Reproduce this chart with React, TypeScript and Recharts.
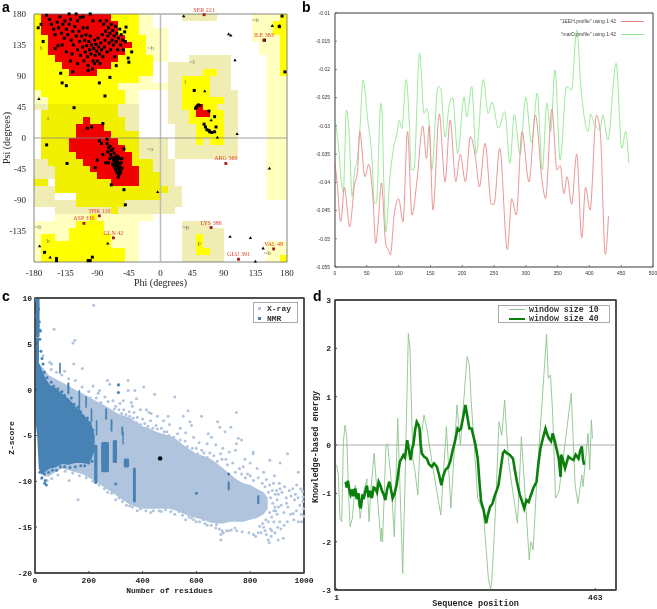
import {
  Area,
  ComposedChart,
  Line,
  LineChart,
  ReferenceArea,
  ReferenceLine,
  Scatter,
  ScatterChart,
  XAxis,
  YAxis,
} from "recharts";

type Pair = [number, number];
type Row = [number, number, number, number]; // psiHi, psiLo, phiLo, phiHi

const toPts = (rows: Pair[]) => rows.map(([x, y]) => ({ x, y }));

// ---- panel a: Ramachandran regions, as rows of 10 degree cells
const paleRows: Row[] = [
  [180, 160, -30, -10], [160, 110, -30, 10], [110, 80, -30, -10], [80, 70, -60, 10], [70, 50, -50, -30],
  [70, 50, -180, -160], [-110, -120, -150, -10], [-120, -130, -180, -30], [-130, -180, -180, -30],
  [180, 140, 130, 180], [140, 120, 140, 180], [120, -90, 150, 180], [-150, -180, 150, 180],
];
const khakiRows: Row[] = [
  [180, 170, 30, 80], [120, 110, 40, 100], [110, 70, 10, 100], [70, 20, 10, 110], [20, -30, 20, 110],
  [50, 40, -180, -160], [40, -30, -170, -160], [-30, -60, -180, -150], [-70, -100, -180, -150],
  [50, 30, -60, -30], [30, 0, -50, -30], [0, -30, -30, 10], [-30, -70, -20, 20], [-70, -100, -20, 30],
  [-90, -100, -150, 30], [-100, -110, -150, 20], [-120, -130, 30, 70], [-130, -180, 30, 90],
];
const yellowRows: Row[] = [
  [180, 150, -180, -30], [150, 120, -180, -20], [120, 90, -180, -10], [90, 80, -180, -30], [80, 70, -180, -60],
  [70, 60, -170, -50], [60, 50, -160, -50],
  [-110, -120, -100, -90], [-120, -130, -120, -80], [-130, -140, -130, -80], [-140, -150, -170, -150],
  [-140, -150, -130, -70], [-150, -160, -170, -70], [-160, -180, -170, -50],
  [180, 170, 170, 180], [170, 150, 160, 180], [150, 90, 170, 180], [-170, -180, 170, 180],
  [100, 90, 60, 80], [90, 60, 30, 70], [60, 50, 30, 90], [50, 40, 30, 80], [40, 20, 40, 90], [20, 0, 50, 90],
  [0, -10, 50, 60], [0, -10, 70, 90], [-140, -160, 50, 60], [-160, -170, 50, 70],
];
const darkYellowRows: Row[] = [
  [50, 40, -160, -60], [40, 30, -170, -60], [30, 10, -170, -50], [10, -30, -170, -30], [-30, -40, -160, -10],
  [-40, -50, -150, -10], [-50, -70, -150, 0], [-70, -80, -150, 10], [-80, -90, -120, 0], [-90, -100, -120, -50],
  [-100, -110, -70, -60], [-60, -70, -180, -160],
];
const redRows: Row[] = [
  [180, 170, -170, -70], [170, 150, -170, -60], [150, 140, -160, -50], [140, 130, -160, -40], [130, 120, -160, -50],
  [120, 110, -150, -60], [110, 100, -140, -70], [100, 90, -130, -90],
  [30, 20, -110, -100], [20, 10, -120, -80], [10, 0, -120, -70], [0, -10, -130, -60], [-10, -20, -130, -50],
  [-20, -30, -120, -40], [-30, -40, -110, -40], [-40, -50, -100, -30], [-50, -60, -90, -30], [-60, -70, -70, -30],
  [50, 40, 50, 60], [40, 30, 50, 70],
];

const regionLabels: [string, number, number, string][] = [
  ["B", -158, 170, "#8a1010"], ["b", -170, 130, "#8a8a10"], ["a", -160, 28, "#8a8a10"], ["A", -110, 10, "#8a1010"],
  ["~b", -14, 130, "#777"], ["~a", -15, -16, "#777"], ["~l", 45, 110, "#777"], ["l", 35, 80, "#777"],
  ["~p", 36, -130, "#666"], ["p", 55, -153, "#666"], ["~b", -174, -130, "#666"], ["b", -160, -150, "#666"],
  ["~b", 135, 170, "#666"], ["b", 170, 160, "#777"], ["~b", 152, -167, "#666"],
];

const outliers: { name: string; x: number; y: number }[] = [
  { name: "SER 221", x: 62, y: 179 },
  { name: "ILE 383", x: 147, y: 142 },
  { name: "ARG 360", x: 93, y: -37 },
  { name: "THR 110", x: -87, y: -113 },
  { name: "ASP 336", x: -109, y: -124 },
  { name: "LYS 386", x: 72, y: -130 },
  { name: "GLN 42", x: -67, y: -145 },
  { name: "VAL 48", x: 161, y: -161 },
  { name: "GLU 391", x: 111, y: -176 },
];

const glycines: Pair[] = [
  [33, 177], [97, 151], [100, 149], [106, 113], [159, 163], [169, 163], [-173, 57], [63, 68], [72, 26], [81, 1],
  [109, 6], [155, -44], [-4, -78], [-172, -157], [-157, -173], [-75, -153], [99, -143], [128, -145], [146, -160],
  [135, -179],
];

const residues: Pair[] = [
  // sheet region, edges
  [-174, 160], [-170, 165], [-167, 140], [-162, 178], [-130, 180], [-120, 180], [-100, 180], [-49, 161], [-51, 154],
  [-41, 125], [-46, 116], [-45, 110], [-63, 105], [-142, 94], [-125, 96], [-103, 98], [-140, 80], [-134, 76], [-87, 80],
  [-72, 88], [-79, 61], [-123, 44],
  // sheet region, inner
  [-158, 172], [-155, 165], [-152, 158], [-150, 150], [-147, 168], [-145, 160], [-143, 176], [-141, 152], [-139, 165],
  [-137, 145], [-136, 170], [-134, 158], [-132, 150], [-130, 165], [-128, 172], [-127, 142], [-125, 155], [-124, 135],
  [-122, 162], [-120, 148], [-118, 170], [-118, 128], [-116, 155], [-115, 140], [-114, 120], [-112, 148], [-111, 132],
  [-110, 160], [-109, 112], [-108, 142], [-107, 125], [-106, 150], [-105, 134], [-104, 118], [-103, 105], [-102, 140],
  [-101, 128], [-100, 148], [-99, 122], [-98, 135], [-97, 100], [-96, 112], [-95, 130], [-94, 142], [-93, 120],
  [-92, 136], [-91, 126], [-90, 112], [-89, 145], [-88, 132], [-87, 122], [-86, 108], [-85, 138], [-84, 128],
  [-83, 150], [-82, 118], [-81, 165], [-80, 132], [-79, 142], [-78, 155], [-77, 170], [-76, 125], [-75, 148],
  [-74, 160], [-73, 138], [-72, 152], [-71, 128], [-70, 165], [-69, 142], [-68, 156], [-67, 135], [-66, 148],
  [-65, 118], [-64, 162], [-63, 140], [-62, 152], [-61, 128], [-60, 145], [-58, 158], [-57, 135], [-56, 150],
  [-54, 142], [-53, 128], [-50, 140], [-146, 134], [-128, 112], [-134, 125], [-150, 130], [-118, 108], [-94, 108],
  [-114, 175], [-96, 170], [-110, 176], [-86, 170], [-140, 135], [-126, 122], [-104, 160],
  // helix region
  [-104, 14], [-98, 16], [-82, 21], [-76, -2], [-87, -4], [-84, -8], [-90, -32], [-93, -43], [-78, -36], [-162, -10],
  [-133, -37], [-70, -68], [-52, -75], [-50, -97], [-76, -8], [-74, -14], [-72, -12], [-70, -18], [-75, -20], [-68, -16],
  [-71, -24], [-69, -28], [-66, -22], [-67, -32], [-64, -28], [-72, -30], [-65, -36], [-62, -32], [-68, -38], [-63, -40],
  [-60, -36], [-66, -42], [-61, -44], [-58, -40], [-64, -46], [-59, -48], [-62, -50], [-57, -46], [-60, -54], [-58, -52],
  [-55, -44], [-62, -26], [-60, -28], [-58, -30], [-56, -36], [-65, -30], [-63, -34], [-61, -38], [-59, -42], [-57, -50],
  [-74, -36], [-82, -24], [-60, -57], [-55, -30], [-52, -16],
  // left handed region
  [48, 69], [51, 45], [54, 48], [56, 47], [50, 43], [69, 39], [77, 31], [62, 20], [64, 16], [66, 12], [79, 16], [77, 9],
  [70, 9], [73, 8], [69, 11],
  // others
  [-165, -166], [-148, -175], [-148, -178], [-103, -178], [-100, -178], [-97, -173], [173, 177], [169, 162], [148, 142],
  [177, 96],
];

const phiTicks = [-180, -135, -90, -45, 0, 45, 90, 135, 180];
const psiTicks = [180, 135, 90, 45, 0, -45, -90, -135];

// ---- panel b
const profileRed: Pair[] = [
  [0, -0.0366], [3, -0.0396], [9, -0.047], [15, -0.0409], [19, -0.0445], [23, -0.0479], [31, -0.0402], [35, -0.0385],
  [39, -0.031], [47, -0.039], [53, -0.0368], [60, -0.0434], [64, -0.0508], [68, -0.047], [73, -0.0401], [80, -0.0511],
  [84, -0.052], [87, -0.0529], [93, -0.0458], [100, -0.0429], [107, -0.047], [114, -0.031], [121, -0.0458],
  [129, -0.0396], [138, -0.03], [144, -0.0358], [148, -0.03], [154, -0.0449], [164, -0.0279], [173, -0.0399],
  [181, -0.029], [190, -0.0399], [197, -0.035], [205, -0.0399], [213, -0.0319], [221, -0.0358], [227, -0.0408],
  [236, -0.0331], [246, -0.0439], [250, -0.0439], [259, -0.034], [271, -0.0519], [278, -0.0429], [285, -0.0458],
  [294, -0.031], [305, -0.0399], [315, -0.0281], [326, -0.0401], [331, -0.0429], [341, -0.027], [349, -0.0378],
  [354, -0.037], [360, -0.042], [365, -0.039], [372, -0.0439], [380, -0.035], [388, -0.0498], [394, -0.0409],
  [401, -0.0449], [411, -0.0281], [417, -0.031], [425, -0.0528], [430, -0.046],
];
const profileGreen: Pair[] = [
  [0, -0.029], [5, -0.033], [10, -0.04], [13, -0.0417], [18, -0.0272], [22, -0.031], [27, -0.0425], [31, -0.0378],
  [35, -0.036], [39, -0.031], [44, -0.0219], [52, -0.0295], [58, -0.0355], [62, -0.0437], [65, -0.0437], [72, -0.026],
  [74, -0.028], [77, -0.0408], [80, -0.0488], [86, -0.0396], [92, -0.034], [98, -0.031], [101, -0.029], [105, -0.0305],
  [112, -0.0218], [117, -0.03], [120, -0.0378], [124, -0.0378], [133, -0.0171], [140, -0.0278], [144, -0.0269],
  [148, -0.0295], [152, -0.0378], [162, -0.023], [166, -0.0233], [173, -0.032], [180, -0.026], [185, -0.025],
  [193, -0.0349], [203, -0.0249], [207, -0.0284], [215, -0.023], [222, -0.035], [233, -0.0218], [241, -0.0278],
  [247, -0.0258], [257, -0.0304], [267, -0.0275], [275, -0.0366], [282, -0.028], [291, -0.035], [300, -0.0249],
  [309, -0.033], [318, -0.0242], [326, -0.0378], [333, -0.026], [339, -0.031], [346, -0.0201], [354, -0.036],
  [364, -0.023], [372, -0.0237], [380, -0.013], [387, -0.0236], [398, -0.031], [402, -0.0279], [408, -0.0298],
  [417, -0.0307], [421, -0.028], [429, -0.0325], [442, -0.0189], [451, -0.034], [457, -0.031], [462, -0.0366],
];
const profileXTicks = [0, 50, 100, 150, 200, 250, 300, 350, 400, 450, 500];
const profileYTicks = [-0.01, -0.015, -0.02, -0.025, -0.03, -0.035, -0.04, -0.045, -0.05, -0.055];

// ---- panel c: dense clouds as [residues, low, high], loose points listed
const xrayBand: [number, number, number][] = [
  [10, -5, 3], [30, -9.4, 2.4], [50, -9.5, 1.6], [75, -9, 1.2], [100, -8.6, 0.8], [125, -8.8, 0.4], [150, -9, 0],
  [175, -9.2, -0.4], [200, -9.6, -0.8], [225, -10, -1.2], [250, -10.5, -1.6], [275, -11, -2], [300, -11.5, -2.5],
  [325, -12, -2.8], [350, -12.5, -3], [375, -12.8, -3.5], [400, -13, -4], [425, -13, -4.2], [450, -13, -4.6],
  [475, -13, -4.8], [500, -13, -5], [525, -13.2, -5.4], [550, -13.5, -6], [575, -13.8, -6.5], [600, -14, -7],
  [625, -14.2, -7.2], [650, -14.5, -7.5], [675, -14.6, -8], [700, -14.6, -8.6], [725, -14.4, -9.2], [750, -14.4, -9.8],
  [775, -14.4, -10.2], [800, -14.2, -10.4], [825, -14, -10.8], [850, -13.6, -11.2], [865, -13, -11.8],
];
const nmrBand: [number, number, number][] = [
  [0, -3, 3], [8, -5, 3.4], [14, -8.6, 3], [25, -9.3, 2.2], [40, -8.9, 1.2], [55, -8.6, 0.5], [75, -8.5, 0.2],
  [100, -8.1, -0.4], [125, -8.2, -1], [150, -8, -1.8], [175, -8, -2.6], [195, -8.1, -3.2], [210, -7.6, -3.8],
  [222, -6.6, -5],
];
const nmrStripes: Row[] = [
  [10, 5.7, 1, 17], [8, 6, 6, 14], [5.7, 3, 1, 15], [3, 1.7, 90, 96], [0.8, -0.5, 120, 128], [0, -3, 162, 168],
  [-0.7, -2, 187, 193], [-2, -3.5, 207, 213], [-2, -3.3, 261, 268], [-3.2, -4.6, 281, 288], [-3.3, -5, 226, 232],
  [-4, -5, 321, 328], [-6, -10.3, 220, 232], [-5.7, -9, 246, 275], [-5.5, -8, 289, 305], [-7.5, -8.5, 330, 350],
  [-8.5, -12.3, 364, 375], [-10, -11, 716, 724], [-11.5, -12.5, 826, 834], [-4.6, -6, 325, 330],
];
const xrayPoints: Pair[] = [
  [218, 9.2], [71, 6.6], [148, 5.4], [141, 5.1], [55, 3], [30, 3.7], [144, 2.8], [176, 2.3], [110, 2], [61, 2.8],
  [216, 0.4], [269, 1], [311, 0.6], [346, 1], [240, -0.1], [278, 0.6], [346, -0.1], [371, -0.1], [404, 0.3], [445, -0.5],
  [520, -0.8], [377, -1], [328, -1.2], [358, -1.4], [368, -2.5], [414, -2.2], [423, -2.5], [749, -2.5], [569, -2.3],
  [619, -2.9], [495, -2.9], [551, -2.9], [576, -3.5], [582, -3.9], [679, -3.5], [687, -4.1], [706, -4.6], [728, -4.1],
  [644, -4.8], [656, -5.2], [749, -5.9], [756, -5.3], [811, -6.8], [811, -7], [768, -5.5], [939, -7], [873, -7.7],
  [911, -8], [979, -9], [774, -8.4], [886, -10.2], [911, -10.8], [973, -10.4], [995, -11.1], [997, -11.7], [935, -12.4],
  [960, -13.5], [979, -14.4], [991, -14.4], [923, -16.2], [867, -16.4], [871, -16.7], [904, -16.4], [691, -16.4],
  [691, -15.8], [675, -14.7], [743, -15.1], [625, -14.2], [582, -14], [160, -12], [127, -9.9], [24, -9.7],
  [905, -11.4], [915, -12.6], [925, -13.4], [940, -12.8], [952, -11.6], [965, -12], [985, -12.6], [1000, -13.8],
  [900, -13.6], [910, -14.4], [880, -15.4], [860, -15.8], [840, -15.6], [820, -16], [700, -15.6], [685, -15.2],
  [720, -15.4], [640, -14.8], [600, -14.4], [560, -14.2], [520, -13.6], [470, -13.3], [430, -13.4], [380, -13.2],
  [340, -12.6], [300, -12], [270, -11.2], [450, -3.9], [470, -4.2], [490, -4.6], [530, -4.8], [510, -5.4], [600, -6.4],
  [620, -6.6], [650, -6.9], [690, -7], [710, -7.6], [760, -8.6], [790, -9.2], [830, -9.6], [860, -9.8], [430, -3.4],
  [400, -3.2], [380, -3], [350, -2.4], [330, -2.2], [300, -1.8], [290, -1.2], [260, -0.8], [235, -0.4], [200, -0.2],
  [175, 0.3], [150, 1], [125, 1.2], [100, 1.6], [80, 1.9], [60, 2.2],
  // upper rim of the cloud
  [205, -0.9], [215, -1.6], [228, -0.9], [245, -1.4], [258, -1.9], [272, -1.3], [285, -2.4], [295, -2.1], [312, -2.2],
  [322, -2.6], [338, -2.7], [352, -2.9], [365, -3.1], [378, -3.6], [392, -3.8], [408, -3.7], [420, -4], [438, -4.2],
  [455, -4.3], [462, -5], [480, -4.6], [498, -5], [515, -5.2], [540, -5.5], [558, -5.6], [566, -6.2], [585, -6.4],
  [605, -7], [628, -6.9], [640, -7.4], [665, -7.2], [678, -7.8], [695, -7.6], [715, -8.2], [735, -8], [745, -9],
  [768, -9.2], [782, -9.6], [800, -9.4], [812, -9.9], [845, -10.2], [855, -10.6], [872, -10.4], [882, -11], [893, -11.4],
  [540, -4.2], [590, -5.2], [610, -5.8], [672, -6], [698, -6.4], [722, -6.8], [745, -6.6], [780, -7.6], [800, -8],
  [826, -8.6], [850, -9], [890, -9.4], [640, -5.9], [560, -4.7], [478, -3.4], [500, -3.8], [455, -2.9], [432, -2.6],
  [392, -2.2], [362, -1.8], [316, -1.5],
  // lower rim of the cloud
  [900, -12], [905, -12.8], [895, -13.2], [888, -14.4], [875, -15.2], [855, -15.4], [830, -15.6], [812, -15.8],
  [795, -15.6], [770, -15.5], [750, -15.4], [730, -15.3], [712, -15.4], [695, -15.4], [672, -15.1], [655, -14.8],
  [632, -14.6], [612, -14.4], [590, -14.2], [572, -13.9], [548, -13.7], [535, -13.3], [505, -13.3], [485, -13.1],
  [462, -13.2], [440, -13.2], [412, -13.2], [392, -13], [362, -12.8], [352, -12.7], [325, -12.2], [312, -11.8],
  [285, -11.3], [258, -10.8], [238, -10.4], [215, -10], [190, -9.6], [165, -9.4], [140, -9.1], [112, -8.9], [85, -9.3],
  [62, -9.7], [45, -9.9],
  // loose tail beyond 850 residues
  [868, -11.2], [876, -11.8], [884, -12.4], [892, -12.8], [872, -13.4], [880, -13.9], [868, -14.4], [858, -14.2],
  [846, -14.6], [835, -14.9], [898, -11], [908, -10.2], [918, -11.2], [928, -10.6], [934, -11.8], [945, -11], [958, -10.8],
  [968, -11.4], [978, -11.8], [988, -10.8], [996, -12.2], [998, -13], [990, -13.6], [972, -13.2], [962, -14.2],
  [950, -13.6], [938, -14.4], [926, -14.8], [914, -15.2], [902, -15], [892, -15.6], [878, -16], [888, -13.2], [850, -15],
];
const nmrPoints: Pair[] = [
  [300, -10.3], [600, -11.3], [310, 0.5], [310, -0.3], [5, 8], [12, 7], [18, 6.5], [720, -9.2],
  [5, 9.8], [10, 9.2], [8, 9.6], [14, 8.8], [16, 7.4], [20, 6.4], [18, 5.5], [22, 4.2], [26, 3.4], [30, 2.8], [35, 1.9],
  [45, 1.3], [60, 0.8], [70, 0.4], [85, 0.1], [100, -0.2], [110, -0.6], [135, -0.9], [145, -1.6], [160, -1.9], [170, -2.4],
  [180, -2.9], [195, -3.1], [205, -3.6], [215, -4.4], [18, -9], [26, -9.6], [35, -9.2], [42, -10.4], [36, -10.2], [38, -9.9],
  [50, -9], [65, -8.8], [80, -8.8], [95, -8.4], [110, -8.4], [130, -8.5], [150, -8.4], [170, -8.3], [185, -8.3], [200, -8],
  [212, -7.8],
];
const targetPoint: Pair[] = [[465, -7.5]];
const zXTicks = [0, 200, 400, 600, 800, 1000];
const zYTicks = [10, 5, 0, -5, -10, -15, -20];

// ---- panel d
const window10: Pair[] = [
  [1, -0.41], [4, -0.62], [7, -1.52], [10, -1.59], [13, 0.07], [16, 0.41], [19, 0.2], [22, -0.97], [25, -1.69], [29, -1.52],
  [34, -0.83], [40, -1.1], [43, -1.52], [49, -0.97], [55, -0.7], [59, -1.59], [62, -0.95], [68, -0.17], [73, -0.97], [80, -2],
  [81, -1.72], [83, -2], [89, 0], [92, 0.03], [98, -0.69], [104, -1.9], [110, 0.55], [114, -0.83], [119, -2.66], [123, -0.83],
  [129, 2.31], [132, 2], [137, -0.28], [141, -0.55], [146, -1.03], [150, 0], [157, 0.62], [162, 0.34], [171, -0.34],
  [180, -0.97], [187, -1.45], [197, 0.38], [205, -1.31], [216, 0.83], [222, 0], [234, 1.83], [238, 1.66], [241, 0.97],
  [249, -0.41], [253, -1.1], [263, -1.38], [272, -2.76], [276, -3], [278, -2.83], [284, -1.52], [291, 0.48], [296, 0.2],
  [301, 0.93], [308, -0.34], [314, -0.83], [324, -1.62], [331, 0.17], [338, -1.1], [345, -2.38], [348, -2], [352, -2.17],
  [359, -0.62], [370, 1.24], [376, 2.29], [379, 1.38], [383, 1.45], [387, 0.62], [392, -1.1], [398, -0.97], [415, 0.59],
  [420, 1.07], [427, -0.83], [432, -1.21], [439, -0.62], [441, -0.86], [450, 0.24], [453, -0.52], [456, 0.52], [458, 0.14],
];
const window40: Pair[] = [
  [17, -0.76], [19, -0.88], [21, -0.74], [24, -0.95], [26, -1.03], [29, -0.92], [31, -1.06], [34, -0.9], [37, -1.12], [40, -1],
  [42, -1.25], [44, -1.31], [47, -1.02], [49, -1.12], [52, -0.97], [55, -0.84], [58, -1.08], [61, -0.95], [64, -1.1], [67, -0.88],
  [70, -0.9], [73, -0.98], [76, -0.76], [79, -0.83], [82, -0.95], [85, -1.02], [88, -1.14], [91, -0.92], [95, -0.76], [98, -0.92],
  [101, -1.1], [104, -1.02], [108, -0.83], [111, -0.58], [114, -0.34], [117, -0.28], [120, -0.21], [123, -0.26], [127, 0.1],
  [130, -0.1], [133, -0.31], [136, -0.06], [138, 0], [141, 0.3], [144, 0.48], [147, 0.42], [149, 0.34], [151, 0.02], [153, -0.17],
  [157, -0.24], [162, -0.28], [166, -0.4], [171, -0.45], [175, -0.38], [180, -0.45], [184, -0.62], [188, -0.83], [191, -0.66],
  [195, -0.52], [200, -0.46], [204, -0.34], [208, -0.12], [212, 0.06], [217, 0.34], [220, 0.3], [223, 0.34], [227, 0.58],
  [231, 0.83], [234, 0.62], [238, 0.34], [242, 0.34], [245, 0.2], [249, 0], [253, -0.28], [256, -0.76], [259, -1.17], [263, -1.32],
  [268, -1.62], [271, -1.45], [275, -1.28], [279, -1.22], [284, -1.03], [287, -0.94], [290, -0.83], [294, -0.5], [298, -0.17],
  [301, -0.12], [305, -0.17], [310, -0.2], [316, -0.28], [319, -0.5], [323, -0.76], [328, -1.02], [332, -1.16], [336, -1.31],
  [340, -1.14], [344, -1.18], [347, -1.07], [352, -0.9], [358, -0.76], [361, -0.42], [365, -0.07], [369, 0.12], [374, 0.34],
  [377, 0.22], [380, 0.14], [384, 0.08], [387, 0.24], [391, 0.06], [395, -0.14], [398, -0.3], [401, -0.66], [402, -0.2],
  [405, -0.3], [409, -0.48], [412, -0.36], [415, -0.24], [419, -0.28], [424, -0.31], [428, -0.2], [433, -0.28], [436, -0.12],
  [439, -0.03], [441, -0.3], [443, -0.41],
];
const seqXTicks = [1, 463];
const seqYTicks = [3, 2, 1, 0, -1, -2, -3];

const serif = "'Liberation Serif', serif";
const mono = "'Liberation Mono', monospace";
const sans = "'Liberation Sans', sans-serif";

const Cell = (fill: string) => (props: any) => (
  <rect x={props.x} y={props.y} width={props.width} height={props.height} fill={fill} shapeRendering="crispEdges" />
);

const regionAreas = (rows: Row[], fill: string, prefix: string) =>
  rows.map((r, i) => (
    <ReferenceArea key={prefix + i} x1={r[2]} x2={r[3]} y1={r[1]} y2={r[0]} ifOverflow="visible" shape={Cell(fill)} />
  ));

const Square = (size: number, fill: string) => (props: any) => (
  <rect x={props.cx - size / 2} y={props.cy - size / 2} width={size} height={size} fill={fill} />
);
const Triangle = (props: any) => (
  <path d={`M${props.cx} ${props.cy - 1.6}L${props.cx + 1.7} ${props.cy + 1.2}L${props.cx - 1.7} ${props.cy + 1.2}Z`} fill="#000" />
);
const Dot = (r: number, fill: string) => (props: any) => <circle cx={props.cx} cy={props.cy} r={r} fill={fill} />;
const Stripe = (props: any) => (
  <rect x={props.x} y={props.y} width={props.width} height={props.height} rx={1.5} fill="#4682b4" />
);
const Outlier = (props: any) => (
  <g>
    <rect x={props.cx - 1.4} y={props.cy - 1.4} width={2.8} height={2.8} fill="#a01818" />
    <text x={props.cx} y={props.cy - 3} textAnchor="middle" fontSize={6} fontFamily={serif} fill="#e0402c">
      {props.payload.name}
    </text>
  </g>
);
const RegionText = (props: any) => (
  <text x={props.cx} y={props.cy} textAnchor="middle" dominantBaseline="middle" fontSize={6.5} fontFamily={serif} fill={props.payload.color}>
    {props.payload.text}
  </text>
);
// rotated axis title, centred on a page position
const SideTitle = ({ x, y, text, font }: { x: number; y: number; text: string; font: string }) => (
  <div
    style={{
      position: "absolute",
      left: x,
      top: y,
      transform: "translate(-50%, -50%) rotate(-90deg)",
      font,
      color: "#222",
      whiteSpace: "pre",
    }}
  >
    {text}
  </div>
);

const Panel = ({ left, top, children }: { left: number; top: number; children: any }) => (
  <div style={{ position: "absolute", left, top }}>{children}</div>
);
const Letter = ({ x, y, text }: { x: number; y: number; text: string }) => (
  <div style={{ position: "absolute", left: x, top: y, font: "bold 14px 'Liberation Sans', sans-serif", lineHeight: "14px", color: "#000" }}>
    {text}
  </div>
);

export default function App() {
  const tickA = { fontSize: 9, fontFamily: serif, fill: "#222" };
  const tickB = { fontSize: 5, fontFamily: sans, fill: "#333" };
  const tickC = { fontSize: 8, fontFamily: mono, fontWeight: 700, fill: "#222" };
  const tickLegend = { fontFamily: mono, fontSize: 8.3, fontWeight: 700, color: "#333", whiteSpace: "pre" as const, lineHeight: "8px" };
  const titleSerif = { fontSize: 10, fontFamily: serif, fill: "#222" };
  const titleMono = { fontSize: 8.5, fontFamily: mono, fontWeight: 700, fill: "#222" };
  const thinLine = { stroke: "#555", strokeWidth: 0.7 };
  const heavyLine = { stroke: "#444", strokeWidth: 1.4 };

  return (
    <div style={{ position: "absolute", left: 0, top: 0, width: 657, height: 609, background: "#fff", overflow: "hidden", filter: "blur(0.45px)" }}>
      <Panel left={0} top={0}>
        <ScatterChart width={300} height={290} margin={{ top: 14, right: 13, bottom: 0, left: 0 }}>
          <XAxis
            type="number"
            dataKey="x"
            domain={[-180, 180]}
            ticks={phiTicks}
            interval={0}
            height={28}
            tick={tickA}
            tickLine={false}
            axisLine={false}
            tickMargin={2}
            label={{ value: "Phi (degrees)", position: "insideBottom", offset: 4, ...titleSerif }}
          />
          <YAxis
            type="number"
            dataKey="y"
            domain={[-180, 180]}
            ticks={psiTicks}
            interval={0}
            width={34}
            tick={tickA}
            tickLine={false}
            axisLine={false}
            tickMargin={2}
          />
          {regionAreas(paleRows, "#ffffc0", "pale")}
          {regionAreas(khakiRows, "#efedb4", "khaki")}
          {regionAreas(yellowRows, "#ffff00", "yellow")}
          {regionAreas(darkYellowRows, "#f0f000", "dark")}
          {regionAreas(redRows, "#f00000", "red")}
          <ReferenceLine x={0} stroke="#bbb" strokeWidth={1.5} />
          <ReferenceLine y={0} stroke="#888" strokeWidth={0.8} />
          <ReferenceArea x1={-180} x2={180} y1={-180} y2={180} fill="none" stroke="#666" strokeWidth={0.8} />
          <Scatter
            data={regionLabels.map(([text, x, y, color]) => ({ text, x, y, color }))}
            shape={RegionText}
            isAnimationActive={false}
          />
          <Scatter data={toPts(residues)} shape={Square(3, "#000")} isAnimationActive={false} />
          <Scatter data={toPts(glycines)} shape={Triangle} isAnimationActive={false} />
          <Scatter data={outliers} shape={Outlier} isAnimationActive={false} />
        </ScatterChart>
      </Panel>
      <SideTitle x={6} y={138} text="Psi (degrees)" font={`10px ${serif}`} />

      <Panel left={300} top={0}>
        <LineChart width={357} height={290} margin={{ top: 12, right: 3, bottom: 0, left: 0 }}>
          <XAxis
            type="number"
            dataKey="x"
            domain={[0, 500]}
            ticks={profileXTicks}
            interval={0}
            height={23}
            tick={tickB}
            tickSize={-2}
            tickMargin={6}
            tickLine={thinLine}
            axisLine={thinLine}
          />
          <XAxis xAxisId="top" orientation="top" type="number" dataKey="x" domain={[0, 500]} ticks={profileXTicks} interval={0} height={1} tick={false} tickSize={-2} tickLine={thinLine} axisLine={thinLine} />
          <YAxis
            type="number"
            dataKey="y"
            domain={[-0.055, -0.01]}
            ticks={profileYTicks}
            interval={0}
            width={35}
            tick={tickB}
            tickSize={-2}
            tickMargin={7}
            tickLine={thinLine}
            axisLine={thinLine}
          />
          <YAxis yAxisId="right" orientation="right" type="number" dataKey="y" domain={[-0.055, -0.01]} ticks={profileYTicks} interval={0} width={1} tick={false} tickSize={-2} tickLine={thinLine} axisLine={thinLine} />
          <ReferenceArea x1={0} x2={500} y1={-0.055} y2={-0.01} fill="none" stroke="#555" strokeWidth={0.7} />
          <Line data={toPts(profileGreen)} dataKey="y" type="monotone" dot={false} stroke="#8fe88f" strokeWidth={0.9} isAnimationActive={false} />
          <Line data={toPts(profileRed)} dataKey="y" type="monotone" dot={false} stroke="#e88a8a" strokeWidth={0.9} isAnimationActive={false} />
        </LineChart>
      </Panel>
      {[
        { text: '"1EEH.profile" using 1:42', color: "#e88a8a", top: 18 },
        { text: '"marD.profile" using 1:42', color: "#8fe88f", top: 31 },
      ].map((row) => (
        <div key={row.text} style={{ position: "absolute", left: 540, top: row.top, width: 104, height: 6, display: "flex", alignItems: "center", justifyContent: "flex-end", gap: 5 }}>
          <span style={{ font: "5px 'Liberation Sans', sans-serif", color: "#444", whiteSpace: "pre" }}>{row.text}</span>
          <span style={{ width: 23, height: 1, background: row.color }} />
        </div>
      ))}

      <Panel left={0} top={285}>
        <ComposedChart width={320} height={324} margin={{ top: 12, right: 15, bottom: 0, left: 0 }}>
          <XAxis
            type="number"
            dataKey="x"
            domain={[0, 1000]}
            ticks={zXTicks}
            interval={0}
            height={36}
            tick={tickC}
            tickSize={-2}
            tickMargin={6}
            tickLine={{ stroke: "#444" }}
            axisLine={heavyLine}
            label={{ value: "Number of residues", position: "insideBottom", offset: 16, fontSize: 8, fontFamily: mono, fontWeight: 700, fill: "#222" }}
          />
          <XAxis xAxisId="top" orientation="top" type="number" dataKey="x" domain={[0, 1000]} ticks={zXTicks} interval={0} height={1} tick={false} tickSize={-2} tickLine={{ stroke: "#444" }} axisLine={heavyLine} />
          <YAxis
            type="number"
            dataKey="y"
            domain={[-20, 10]}
            ticks={zYTicks}
            interval={0}
            width={35}
            tick={tickC}
            tickSize={-2}
            tickMargin={5}
            tickLine={{ stroke: "#444" }}
            axisLine={heavyLine}
          />
          <YAxis yAxisId="right" orientation="right" type="number" dataKey="y" domain={[-20, 10]} ticks={zYTicks} interval={0} width={1} tick={false} tickSize={-2} tickLine={{ stroke: "#444" }} axisLine={heavyLine} />
          <Area
            data={xrayBand.map(([x, lo, hi]) => ({ x, band: [lo, hi] }))}
            dataKey="band"
            type="linear"
            fill="#b0c4de"
            fillOpacity={1}
            stroke="none"
            dot={false}
            activeDot={false}
            isAnimationActive={false}
          />
          <Scatter data={toPts(xrayPoints)} shape={Dot(1.5, "#b0c4de")} isAnimationActive={false} />
          <Area
            data={nmrBand.map(([x, lo, hi]) => ({ x, band: [lo, hi] }))}
            dataKey="band"
            type="linear"
            fill="#4682b4"
            fillOpacity={1}
            stroke="none"
            dot={false}
            activeDot={false}
            isAnimationActive={false}
          />
          {nmrStripes.map((r, i) => (
            <ReferenceArea key={"stripe" + i} x1={r[2]} x2={r[3]} y1={r[1]} y2={r[0]} ifOverflow="visible" shape={Stripe} />
          ))}
          <Scatter data={toPts(nmrPoints)} shape={Dot(1.5, "#4682b4")} isAnimationActive={false} />
          <Scatter data={toPts(targetPoint)} shape={Dot(2.2, "#000")} isAnimationActive={false} />
          <ReferenceArea x1={0} x2={1000} y1={-20} y2={10} fill="none" stroke="#444" strokeWidth={1.4} />
        </ComposedChart>
      </Panel>
      <SideTitle x={11} y={438} text="Z-score" font={`bold 8px ${mono}`} />
      <div style={{ position: "absolute", left: 253, top: 302, width: 45, height: 21, boxSizing: "border-box", border: "1px solid #aaa", background: "#fff" }}>
        {[
          { text: "X-ray", color: "#b0c4de", top: 1 },
          { text: "NMR", color: "#4682b4", top: 11 },
        ].map((row) => (
          <div key={row.text} style={{ position: "absolute", left: 4, top: row.top, display: "flex", alignItems: "center", gap: 6, height: 9 }}>
            <span style={{ width: 3, height: 3, background: row.color }} />
            <span style={{ ...tickLegend, fontSize: 8 }}>{row.text}</span>
          </div>
        ))}
      </div>

      <Panel left={305} top={285}>
        <ComposedChart width={325} height={324} margin={{ top: 14, right: 13, bottom: 0, left: 0 }}>
          <XAxis
            type="number"
            dataKey="x"
            domain={[-2, 500]}
            ticks={seqXTicks}
            interval={0}
            height={19}
            tick={tickC}
            tickSize={-2}
            tickMargin={6}
            tickLine={{ stroke: "#444" }}
            axisLine={heavyLine}
            label={{ value: "Sequence position", position: "insideBottom", offset: 3, ...titleMono }}
          />
          <XAxis xAxisId="top" orientation="top" type="number" dataKey="x" domain={[-2, 500]} ticks={seqXTicks} interval={0} height={1} tick={false} tickSize={-2} tickLine={{ stroke: "#444" }} axisLine={heavyLine} />
          <YAxis
            type="number"
            dataKey="y"
            domain={[-3, 3]}
            ticks={seqYTicks}
            interval={0}
            width={30}
            tick={tickC}
            tickSize={-2}
            tickMargin={6}
            tickLine={{ stroke: "#444" }}
            axisLine={heavyLine}
          />
          <YAxis yAxisId="right" orientation="right" type="number" dataKey="y" domain={[-3, 3]} ticks={seqYTicks} interval={0} width={1} tick={false} tickSize={-2} tickLine={{ stroke: "#444" }} axisLine={heavyLine} />
          <ReferenceLine y={0} stroke="#aaa" strokeWidth={1} />
          <ReferenceArea x1={-2} x2={500} y1={-3} y2={3} fill="none" stroke="#444" strokeWidth={1.4} />
          <Line data={toPts(window10)} dataKey="y" type="linear" dot={false} stroke="#8cc48c" strokeWidth={0.9} isAnimationActive={false} />
          <Line data={toPts(window40)} dataKey="y" type="linear" dot={false} stroke="#0a7f0a" strokeWidth={2.6} isAnimationActive={false} />
        </ComposedChart>
      </Panel>
      <SideTitle x={316} y={447} text="Knowledge-based energy" font={`bold 8.5px ${mono}`} />
      <div style={{ position: "absolute", left: 498, top: 305, width: 112, height: 18, boxSizing: "border-box", border: "1px solid #aaa", background: "#fff" }}>
        {[
          { text: "window size 10", color: "#8cc48c", h: 1, top: -0.5 },
          { text: "window size 40", color: "#0a7f0a", h: 2.5, top: 9 },
        ].map((row) => (
          <div key={row.text} style={{ position: "absolute", left: 10, top: row.top, display: "flex", alignItems: "center", gap: 4, height: 8 }}>
            <span style={{ width: 16, height: row.h, background: row.color }} />
            <span style={tickLegend}>{row.text}</span>
          </div>
        ))}
      </div>

      <Letter x={2} y={0} text="a" />
      <Letter x={302} y={0} text="b" />
      <Letter x={2} y={289} text="c" />
      <Letter x={313} y={289} text="d" />
    </div>
  );
}
